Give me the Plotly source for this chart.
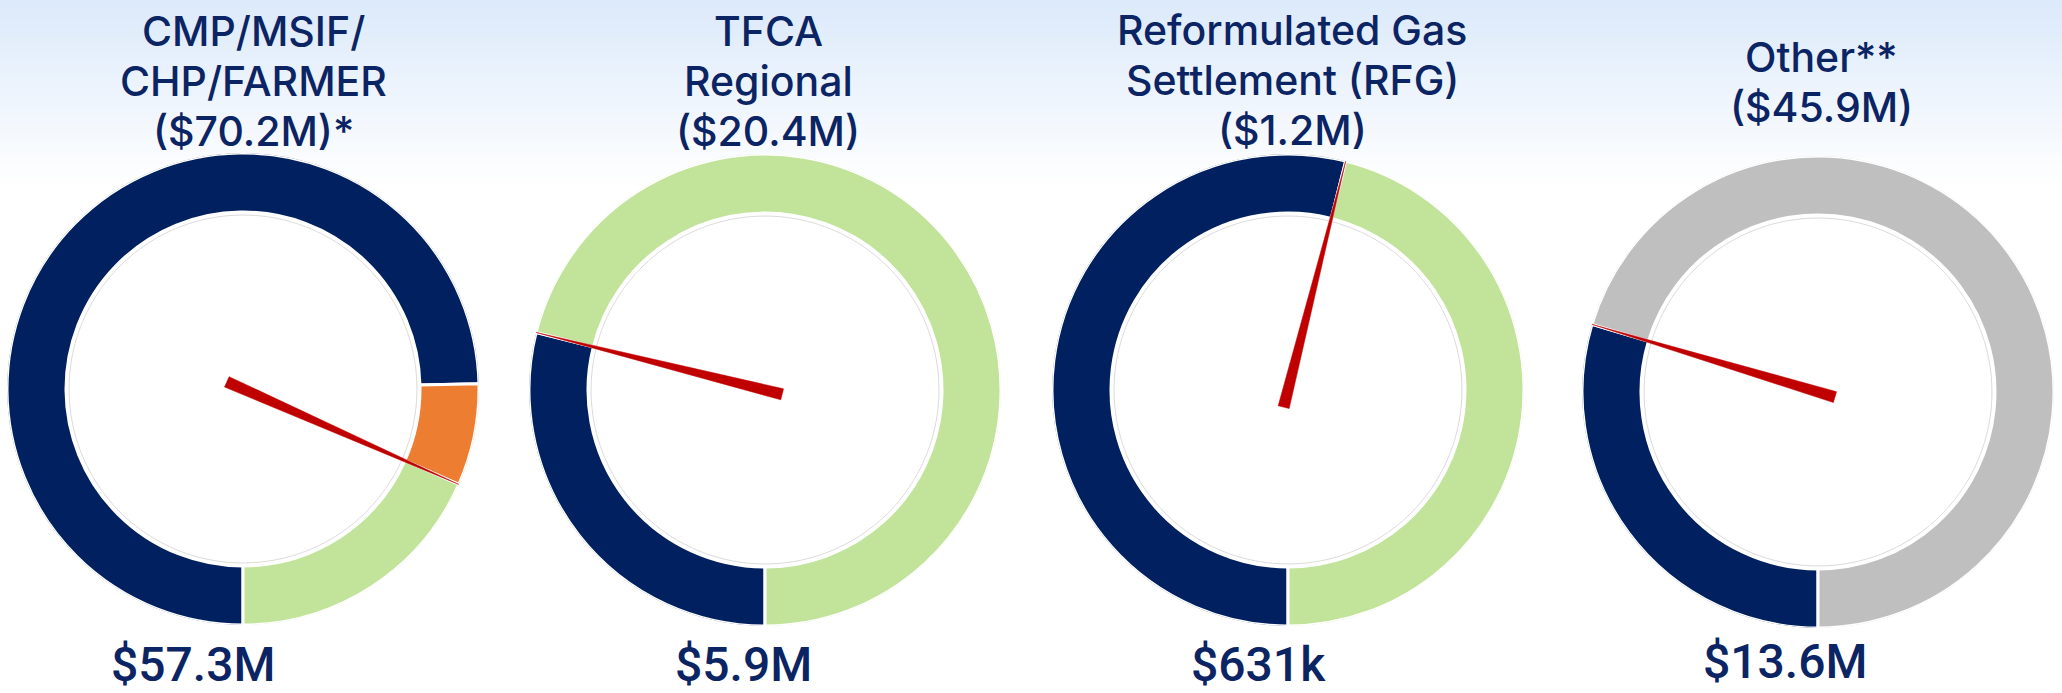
import numpy as np
import plotly.graph_objects as go

W, H = 2062, 693

# ---------------- data ----------------
title_lines = [
    ["CMP/MSIF/", "CHP/FARMER", "($70.2M)*"],
    ["TFCA", "Regional", "($20.4M)"],
    ["Reformulated Gas", "Settlement (RFG)", "($1.2M)"],
    ["Other**", "($45.9M)"],
]
value_labels = ["$57.3M", "$5.9M", "$631k", "$13.6M"]

# ring segments ($M), drawn clockwise starting at 6 o'clock
seg_navy = [52.4, 5.9, 0.631, 13.6]
seg_orange = [4.9, 0.0, 0.0, 0.0]
seg_rest = [12.9, 14.5, 0.539, 32.3]
needle_values = [57.3, 5.9, 0.631, 13.6]

# ---------------- style / layout ----------------
NAVY = "#002060"
ORANGE = "#ED7D31"
GREEN = "#C2E39A"
GREY = "#BFBFBF"
RED = "#C00000"
TXT = "#0B2463"
rest_colors = [GREEN, GREEN, GREEN, GREY]

centers_x = [243, 765, 1288, 1818]
centers_y = [389, 390, 390, 392]
R = 236
HOLE = 0.75
START = 180.0  # 6 o'clock

title_x = [253, 768, 1292, 1821]
title_baselines = [[46, 96, 146], [46, 96, 146], [45, 95, 145], [72, 122]]
value_x = [193, 743, 1258, 1785]
value_baselines = [681, 681, 681, 678]

fig = go.Figure()
layout_polars = {}

for i in range(4):
    pid = "polar" if i == 0 else f"polar{i+1}"
    sub = pid
    segs = [seg_navy[i], seg_orange[i], seg_rest[i]]
    cols = [NAVY, ORANGE, rest_colors[i]]
    total = sum(segs)
    thetas, widths, colors = [], [], []
    ang = START
    for v, c in zip(segs, cols):
        if v <= 0:
            continue
        span = 360.0 * v / total
        thetas.append(ang + span / 2)
        widths.append(span)
        colors.append(c)
        ang += span
    n = len(thetas)
    # faint grey outlines around the ring
    circ = np.linspace(0, 360, 361)
    for rr in (1.013, HOLE - 0.013):
        fig.add_trace(go.Scatterpolar(
            r=[rr] * len(circ), theta=circ, mode="lines",
            line=dict(color="#DADADA", width=1),
            hoverinfo="skip", showlegend=False, subplot=sub))
    fig.add_trace(go.Barpolar(
        r=[1 - HOLE] * n, base=[HOLE] * n, theta=thetas, width=widths,
        marker=dict(color=colors, line=dict(color="white", width=3)),
        hoverinfo="skip", showlegend=False, subplot=sub))
    # needle
    a = START + 360.0 * needle_values[i] / total
    d, w = 0.075, 0.024
    rb = float(np.hypot(d, w))
    off = float(np.degrees(np.arctan2(w, d)))
    fig.add_trace(go.Scatterpolar(
        r=[1.0, rb, rb, 1.0],
        theta=[a, a + 180 - off, a + 180 + off, a],
        mode="lines", fill="toself", fillcolor=RED,
        line=dict(color=RED, width=0.5),
        hoverinfo="skip", showlegend=False, subplot=sub))

    cx, cy = centers_x[i], centers_y[i]
    layout_polars[pid] = dict(
        domain=dict(x=[(cx - R) / W, (cx + R) / W],
                    y=[(H - cy - R) / H, (H - cy + R) / H]),
        bgcolor="rgba(0,0,0,0)",
        barmode="overlay",
        radialaxis=dict(range=[0, 1], visible=False, showgrid=False,
                        showline=False, showticklabels=False, ticks=""),
        angularaxis=dict(rotation=90, direction="clockwise", visible=False,
                         showgrid=False, showline=False,
                         showticklabels=False, ticks=""),
    )

annotations = []
for i in range(4):
    for line, bl in zip(title_lines[i], title_baselines[i]):
        annotations.append(dict(
            x=title_x[i] / W, y=1 - (bl - 15) / H, xref="paper", yref="paper",
            text=line, showarrow=False, xanchor="center", yanchor="middle",
            borderpad=0, borderwidth=0,
            font=dict(family="Inter", size=41, color=TXT, weight=500)))
    annotations.append(dict(
        x=value_x[i] / W, y=1 - (value_baselines[i] - 16.5) / H,
        xref="paper", yref="paper", text=value_labels[i], showarrow=False,
        xanchor="center", yanchor="middle", borderpad=0, borderwidth=0,
        font=dict(family="Roboto", size=48, color=TXT, weight=500)))

# background gradient (light blue at top fading to white)
shapes = []
top = np.array([220, 234, 251])
steps = 40
g_end = 185
for k in range(steps):
    y0 = g_end * k / steps
    y1 = g_end * (k + 1) / steps
    t = (k + 0.5) / steps
    c = top + (255 - top) * t
    shapes.append(dict(type="rect", xref="paper", yref="paper",
                       x0=-0.01, x1=1.01,
                       y0=1 - y1 / H, y1=1 - y0 / H + (0.02 if k == 0 else 0.001),
                       fillcolor=f"rgb({int(c[0])},{int(c[1])},{int(c[2])})",
                       line=dict(width=0), layer="below"))

fig.update_layout(
    width=W, height=H,
    margin=dict(l=0, r=0, t=0, b=0),
    paper_bgcolor="white", plot_bgcolor="white",
    showlegend=False,
    annotations=annotations,
    shapes=shapes,
    **layout_polars,
)

fig.write_html(
    "out.html",
    config={"displayModeBar": False},
    post_script="document.body.style.margin='0';document.body.style.overflow='hidden';",
)
